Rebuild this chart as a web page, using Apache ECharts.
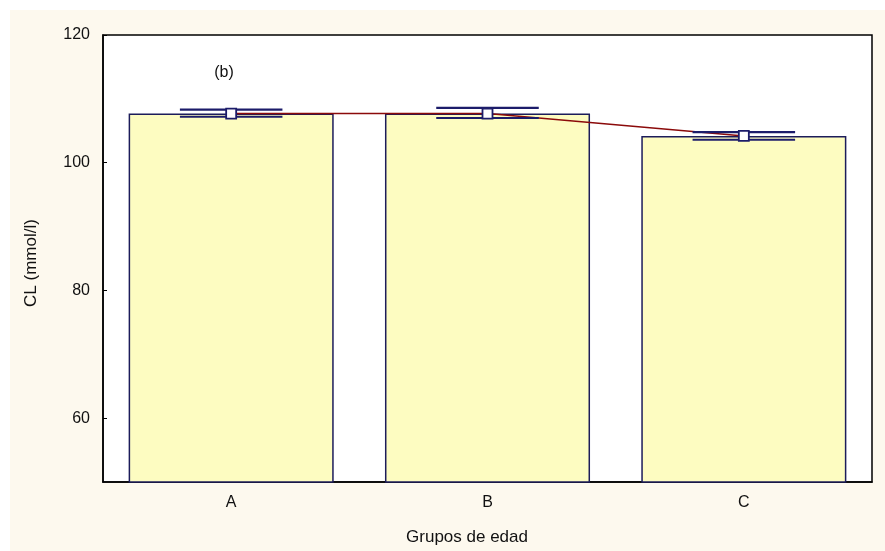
<!DOCTYPE html>
<html>
<head>
<meta charset="utf-8">
<style>
  html, body { margin: 0; padding: 0; background: #ffffff; }
  #frame { position: absolute; left: 10px; top: 10px; width: 875px; height: 541px; background: #fdf9ee; }
  #chart { position: absolute; left: 0; top: 0; width: 885px; height: 551px; }
</style>
<script src="https://cdn.jsdelivr.net/npm/echarts@6/dist/echarts.min.js"></script>
</head>
<body>
<div id="frame"></div>
<div id="chart"></div>
<script>
// Age groups and mean CL with standard error
const categories = ['A', 'B', 'C'];
const means = [107.7, 107.7, 104.2];
const errUpper = [0.6, 0.9, 0.6];
const errLower = [0.5, 0.7, 0.6];
const yTicks = [60, 80, 100, 120];

const chart = echarts.init(document.getElementById('chart'), null, { renderer: 'canvas' });
const FONT = 'Liberation Sans, Arial, sans-serif';

const errData = categories.map((c, i) => [i, means[i] - errLower[i], means[i] + errUpper[i], means[i]]);

chart.setOption({
  backgroundColor: 'transparent',
  animation: false,
  grid: { left: 103, right: 13, top: 35, bottom: 69, show: true, backgroundColor: '#ffffff', borderColor: '#000000', borderWidth: 1.5 },
  graphic: [
    { type: 'text', x: 224, y: 73,
      style: { text: '(b)', font: '16px ' + FONT, fill: '#111', align: 'center', verticalAlign: 'middle' } },
    { type: 'text', x: 467, y: 537,
      style: { text: 'Grupos de edad', font: '17px ' + FONT, fill: '#111', align: 'center', verticalAlign: 'middle' } },
    { type: 'text', x: 31, y: 263, rotation: Math.PI / 2,
      style: { text: 'CL (mmol/l)', font: '17px ' + FONT, fill: '#111', align: 'center', verticalAlign: 'middle' } }
  ],
  xAxis: {
    type: 'category', data: categories,
    axisLine: { show: true, lineStyle: { color: '#000', width: 1.5 } },
    axisTick: { show: false },
    axisLabel: { fontFamily: FONT, fontSize: 16, color: '#111', margin: 13 }
  },
  yAxis: {
    type: 'value', min: 50, max: 120, interval: 10,
    axisLine: { show: true, lineStyle: { color: '#000', width: 1.5 } },
    axisTick: { show: true, inside: true, length: 4, customValues: yTicks, lineStyle: { color: '#000' } },
    axisLabel: { fontFamily: FONT, fontSize: 16, color: '#111', margin: 13, customValues: yTicks },
    splitLine: { show: false }
  },
  series: [
    {
      type: 'bar', data: means, barCategoryGap: '20%',
      itemStyle: { color: '#fdfcc1', borderColor: '#1c1c5a', borderWidth: 1.5 },
      z: 1
    },
    {
      type: 'line', data: means, symbol: 'none',
      lineStyle: { color: '#8b0a0a', width: 1.5 },
      z: 3
    },
    {
      type: 'custom', data: errData, z: 4,
      renderItem: function (params, api) {
        const x = api.value(0);
        const lo = api.coord([x, api.value(1)]);
        const hi = api.coord([x, api.value(2)]);
        const mid = api.coord([x, api.value(3)]);
        const half = api.size([1, 0])[0] * 0.2;
        const line = { stroke: '#1c1c6a', lineWidth: 2.2 };
        const s = 5;
        return {
          type: 'group',
          children: [
            { type: 'line', shape: { x1: hi[0] - half, y1: hi[1], x2: hi[0] + half, y2: hi[1] }, style: line },
            { type: 'line', shape: { x1: lo[0] - half, y1: lo[1], x2: lo[0] + half, y2: lo[1] }, style: line },
            { type: 'line', shape: { x1: hi[0], y1: hi[1], x2: lo[0], y2: lo[1] }, style: line },
            { type: 'rect', shape: { x: mid[0] - s, y: mid[1] - s, width: 2 * s, height: 2 * s },
              style: { fill: '#ffffff', stroke: '#1c1c6a', lineWidth: 1.8 } }
          ]
        };
      }
    }
  ]
});
</script>
</body>
</html>
